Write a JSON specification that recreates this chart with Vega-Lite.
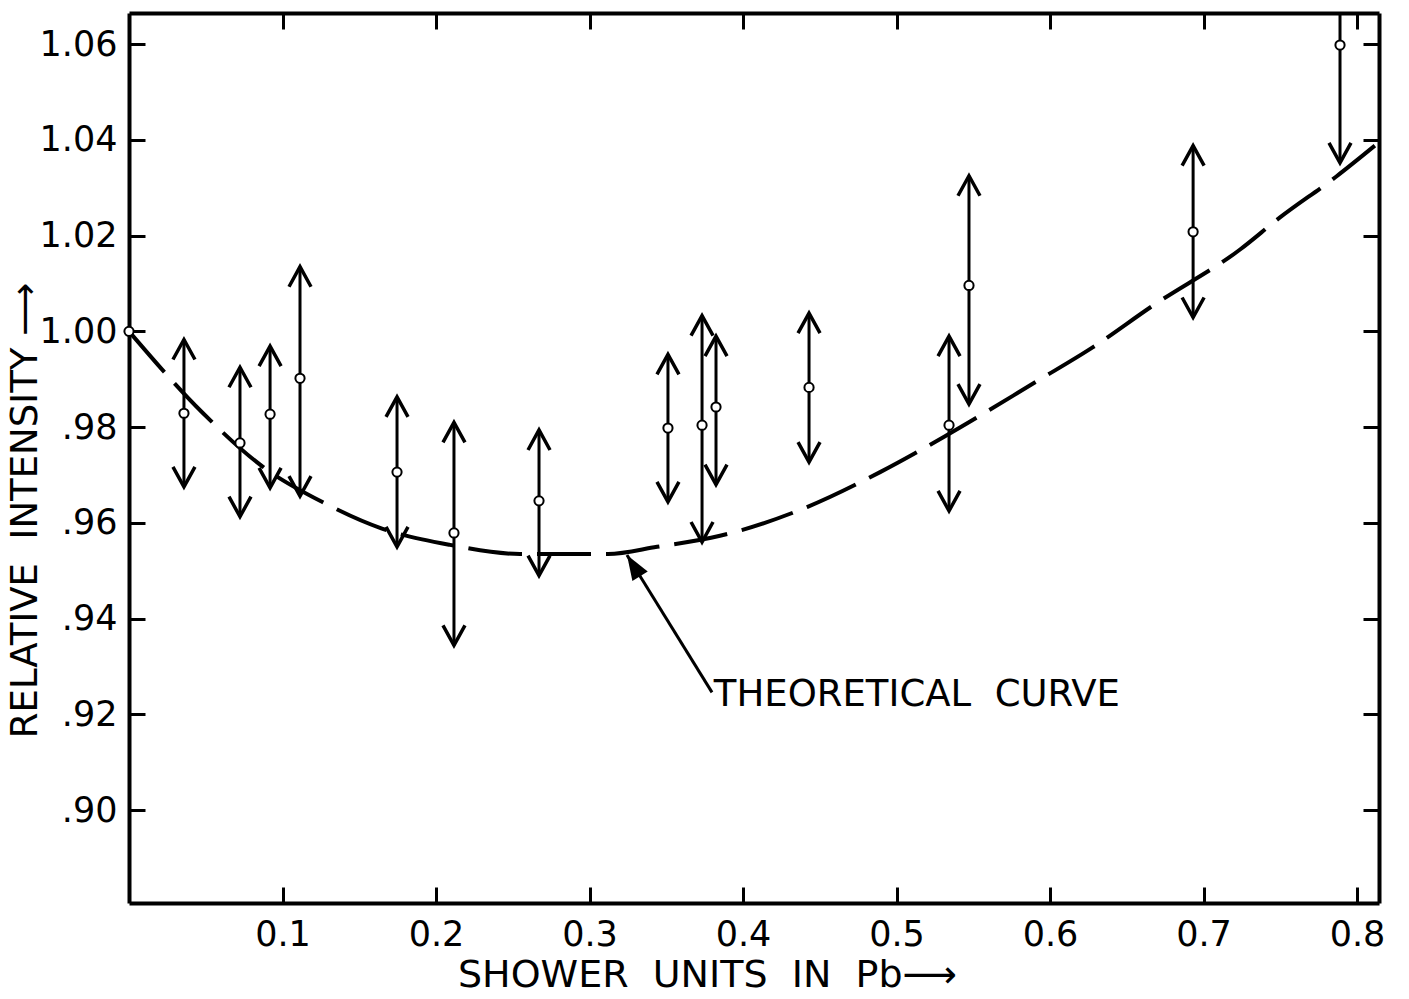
{
  "$schema": "https://vega.github.io/schema/vega-lite/v6.json",
  "width": 1250,
  "height": 890,
  "autosize": {"type": "none"},
  "padding": {"left": 129, "top": 13, "right": 30, "bottom": 96},
  "background": "white",
  "config": {
    "view": {"stroke": null},
    "axis": {
      "grid": false,
      "domainColor": "black",
      "domainWidth": 4,
      "tickColor": "black",
      "tickWidth": 3,
      "tickSize": -16,
      "labelFont": "DejaVu Sans",
      "labelFontSize": 35,
      "labelColor": "black",
      "titleFont": "DejaVu Sans",
      "titleFontSize": 37,
      "titleFontWeight": "normal",
      "titleColor": "black"
    }
  },
  "datasets": {
    "obs": [
      {"x": 0.0, "y": 1.0},
      {"x": 0.0358, "y": 0.9829, "lo": 0.9675, "hi": 0.9983},
      {"x": 0.0723, "y": 0.9767, "lo": 0.9613, "hi": 0.9925},
      {"x": 0.0919, "y": 0.9827, "lo": 0.9673, "hi": 0.9969},
      {"x": 0.1114, "y": 0.9902, "lo": 0.9656, "hi": 1.0135},
      {"x": 0.1746, "y": 0.9706, "lo": 0.955, "hi": 0.9863},
      {"x": 0.2117, "y": 0.9579, "lo": 0.9344, "hi": 0.981},
      {"x": 0.2671, "y": 0.9646, "lo": 0.949, "hi": 0.9794},
      {"x": 0.3511, "y": 0.9798, "lo": 0.9644, "hi": 0.9952},
      {"x": 0.3733, "y": 0.9804, "lo": 0.956, "hi": 1.0033},
      {"x": 0.3824, "y": 0.9842, "lo": 0.968, "hi": 0.999},
      {"x": 0.443, "y": 0.9883, "lo": 0.9727, "hi": 1.0038},
      {"x": 0.5342, "y": 0.9804, "lo": 0.9625, "hi": 0.999},
      {"x": 0.5472, "y": 1.0096, "lo": 0.9848, "hi": 1.0325},
      {"x": 0.6932, "y": 1.0208, "lo": 1.0029, "hi": 1.0388},
      {"x": 0.7889, "y": 1.0598, "lo": 1.0352, "hi": 1.0665}
    ],
    "curve": [
      {"x": 0.0, "y": 1.0},
      {"x": 0.0476, "y": 0.9831},
      {"x": 0.0873, "y": 0.9717},
      {"x": 0.1257, "y": 0.9644},
      {"x": 0.1648, "y": 0.9588},
      {"x": 0.2091, "y": 0.9554},
      {"x": 0.2547, "y": 0.9535},
      {"x": 0.312, "y": 0.9535},
      {"x": 0.344, "y": 0.955},
      {"x": 0.385, "y": 0.9573},
      {"x": 0.4417, "y": 0.9633},
      {"x": 0.4893, "y": 0.9706},
      {"x": 0.5316, "y": 0.9781},
      {"x": 0.5915, "y": 0.9896},
      {"x": 0.628, "y": 0.9967},
      {"x": 0.6671, "y": 1.0054},
      {"x": 0.7238, "y": 1.0171},
      {"x": 0.7498, "y": 1.0238},
      {"x": 0.7863, "y": 1.0323},
      {"x": 0.8124, "y": 1.039}
    ],
    "note": [
      {"label": "THEORETICAL\u00a0\u00a0CURVE", "x": 0.3798, "y": 0.9246, "tx": 0.3244, "ty": 0.9533, "lx": 0.381, "ly": 0.9217}
    ]
  },
  "resolve": {"axis": {"x": "independent", "y": "independent"}},
  "layer": [
    {
      "data": {"name": "curve"},
      "mark": {"type": "line", "color": "black", "strokeWidth": 4, "strokeDash": [54, 15], "interpolate": "monotone"},
      "encoding": {
        "x": {
          "field": "x", "type": "quantitative",
          "scale": {"domain": [0, 0.8143], "nice": false, "zero": false},
          "axis": {
            "orient": "bottom",
            "values": [0.1, 0.2, 0.3, 0.4, 0.5, 0.6, 0.7, 0.8],
            "format": ".1f",
            "labelPadding": 30,
            "title": "SHOWER\u00a0\u00a0UNITS\u00a0\u00a0IN\u00a0\u00a0Pb⟶",
            "titleFontSize": 38,
            "titleX": 578,
            "titleY": 83,
            "titleBaseline": "alphabetic"
          }
        },
        "y": {
          "field": "y", "type": "quantitative",
          "scale": {"domain": [0.8806, 1.0665], "nice": false, "zero": false},
          "axis": {
            "orient": "left",
            "values": [0.9, 0.92, 0.94, 0.96, 0.98, 1.0, 1.02, 1.04, 1.06],
            "labelExpr": "datum.value >= 0.999 ? format(datum.value, '.2f') : replace(format(datum.value, '.2f'), '0.', '.')",
            "labelPadding": 28,
            "title": "RELATIVE\u00a0\u00a0INTENSITY\u00a0⟶",
            "titleX": -93,
            "titleY": 497,
            "titleBaseline": "alphabetic"
          }
        }
      }
    },
    {
      "data": {"name": "obs"},
      "transform": [{"filter": "isValid(datum.lo)"}],
      "mark": {"type": "rule", "color": "black", "strokeWidth": 3},
      "encoding": {
        "x": {"field": "x", "type": "quantitative", "axis": null},
        "y": {"field": "lo", "type": "quantitative", "axis": null},
        "y2": {"field": "hi"}
      }
    },
    {
      "data": {"name": "obs"},
      "transform": [{"filter": "isValid(datum.hi) && datum.hi < 1.065"}],
      "mark": {"type": "point", "shape": "M-0.55,1L0,0L0.55,1", "size": 1600, "filled": false, "stroke": "black", "strokeWidth": 3.5, "opacity": 1},
      "encoding": {
        "x": {"field": "x", "type": "quantitative", "axis": null},
        "y": {"field": "hi", "type": "quantitative", "axis": null}
      }
    },
    {
      "data": {"name": "obs"},
      "transform": [{"filter": "isValid(datum.lo)"}],
      "mark": {"type": "point", "shape": "M-0.55,-1L0,0L0.55,-1", "size": 1600, "filled": false, "stroke": "black", "strokeWidth": 3.5, "opacity": 1},
      "encoding": {
        "x": {"field": "x", "type": "quantitative", "axis": null},
        "y": {"field": "lo", "type": "quantitative", "axis": null}
      }
    },
    {
      "data": {"name": "obs"},
      "mark": {"type": "point", "shape": "circle", "size": 85, "filled": true, "fill": "white", "stroke": "black", "strokeWidth": 2, "opacity": 1},
      "encoding": {
        "x": {
          "field": "x", "type": "quantitative",
          "axis": {"orient": "top", "values": [0.1, 0.2, 0.3, 0.4, 0.5, 0.6, 0.7, 0.8], "labels": false, "title": null}
        },
        "y": {
          "field": "y", "type": "quantitative",
          "axis": {"orient": "right", "values": [0.9, 0.92, 0.94, 0.96, 0.98, 1.0, 1.02, 1.04, 1.06], "labels": false, "title": null}
        }
      }
    },
    {
      "data": {"name": "note"},
      "mark": {"type": "rule", "color": "black", "strokeWidth": 3},
      "encoding": {
        "x": {"field": "x", "type": "quantitative", "axis": null},
        "y": {"field": "y", "type": "quantitative", "axis": null},
        "x2": {"field": "tx"},
        "y2": {"field": "ty"}
      }
    },
    {
      "data": {"name": "note"},
      "mark": {"type": "point", "shape": "M0,0L-0.36,1L0.36,1Z", "size": 2500, "filled": true, "color": "black", "opacity": 1, "angle": -31.6},
      "encoding": {
        "x": {"field": "tx", "type": "quantitative", "axis": null},
        "y": {"field": "ty", "type": "quantitative", "axis": null}
      }
    },
    {
      "data": {"name": "note"},
      "mark": {"type": "text", "font": "DejaVu Sans", "fontSize": 37, "color": "black", "align": "left", "baseline": "alphabetic"},
      "encoding": {
        "x": {"field": "lx", "type": "quantitative", "axis": null},
        "y": {"field": "ly", "type": "quantitative", "axis": null},
        "text": {"field": "label"}
      }
    }
  ]
}
